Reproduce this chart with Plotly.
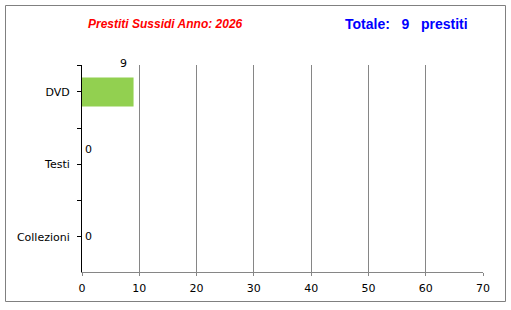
import plotly.graph_objects as go

categories = ["Collezioni", "Testi", "DVD"]
values = [0, 0, 9]
x_ticks = [0, 10, 20, 30, 40, 50, 60, 70]
title_text = "Prestiti Sussidi Anno: 2026"
total_value = 9
total_text = "Totale:   %d   prestiti" % total_value

positions = list(range(len(categories)))

fig = go.Figure()
fig.add_trace(go.Bar(
    y=positions, x=values, orientation="h",
    marker=dict(color="#92D050", line=dict(width=0)),
    width=0.4, hoverinfo="skip",
))

# data labels
label_shifts = [(6, 0), (6, 15), (-10, 28)]
for p, v, (dx, dy) in zip(positions, values, label_shifts):
    fig.add_annotation(x=v, y=p, text=str(v), showarrow=False,
                       xshift=dx, yshift=dy,
                       font=dict(family="DejaVu Sans", size=11, color="black"))

L, R, T, B = 82, 28, 65, 38
W, H = 511, 310
pw, ph = W - L - R, H - T - B

def px_to_paper_x(px):
    return (px - L) / pw

def px_to_paper_y(py):
    return (H - B - py) / ph

fig.add_shape(type="rect", xref="paper", yref="paper",
              x0=px_to_paper_x(5.5), x1=px_to_paper_x(505.5),
              y0=px_to_paper_y(301.5), y1=px_to_paper_y(5.5),
              line=dict(color="#808080", width=1), fillcolor="rgba(0,0,0,0)",
              layer="below")

fig.add_annotation(xref="paper", yref="paper",
                   x=px_to_paper_x(165), y=px_to_paper_y(24),
                   text="<b><i>%s</i></b>" % title_text, showarrow=False,
                   xanchor="center", yanchor="middle",
                   font=dict(family="Liberation Sans", size=12, color="#FF0000"))
fig.add_annotation(xref="paper", yref="paper",
                   x=px_to_paper_x(406), y=px_to_paper_y(24),
                   text="<b>%s</b>" % total_text.replace(" ", "&nbsp;"), showarrow=False,
                   xanchor="center", yanchor="middle",
                   font=dict(family="Liberation Sans", size=14, color="#0000FF"))

fig.update_layout(
    width=W, height=H,
    margin=dict(l=L, r=R, t=T, b=B, pad=0),
    paper_bgcolor="white", plot_bgcolor="white",
    showlegend=False,
    font=dict(family="DejaVu Sans", size=11, color="black"),
    xaxis=dict(
        range=[0, 70], tickvals=x_ticks, ticktext=[str(t) for t in x_ticks],
        showgrid=True, gridcolor="#868686", gridwidth=1,
        showline=True, linecolor="#868686", linewidth=1,
        ticks="outside", ticklen=3, tickcolor="#868686",
        zeroline=False, fixedrange=True,
        tickfont=dict(family="DejaVu Sans", size=11, color="black"),
        ticklabelstandoff=3,
    ),
    yaxis=dict(
        range=[-0.483, 2.372],
        tickvals=positions, ticktext=categories,
        showgrid=False, zeroline=False,
        showline=True, linecolor="black", linewidth=1,
        ticks="outside", ticklen=4, tickcolor="black",
        minor=dict(tickvals=[0.5, 1.5, 2.372], ticks="outside", ticklen=4,
                   tickcolor="black", showgrid=False),
        tickfont=dict(family="DejaVu Sans", size=11, color="black"),
        ticklabelstandoff=5,
        fixedrange=True,
    ),
)

fig.write_html("out.html")
